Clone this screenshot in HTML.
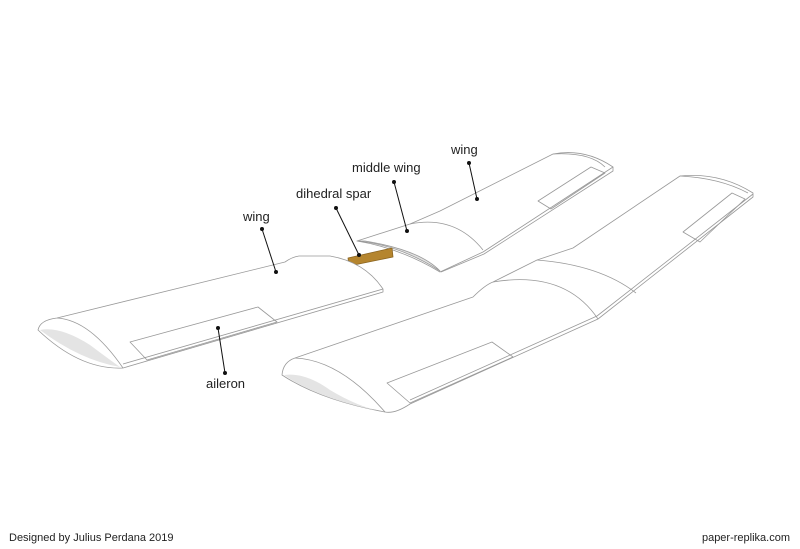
<!DOCTYPE html>
<html><head><style>
html,body{margin:0;padding:0;background:#fff}
svg{display:block}
text{font-family:"Liberation Sans",Arial,sans-serif;fill:#222}
</style></head><body>
<svg width="800" height="549" viewBox="0 0 800 549" xmlns="http://www.w3.org/2000/svg">
<g fill="none" stroke="#999" stroke-width="0.8" stroke-linejoin="round">
<!-- far wing -->
<path d="M440,211 L553,154 Q585,148 613,167 L483,252 L440,272 Q400,248 357,241 L410,224 Z" fill="#fff"/>
<path d="M357,241 Q400,245 440,271 Q420,250 365,241 Z" fill="#e2e2e2"/>
<path d="M410,224 Q455,215 483,250"/>
<path d="M613,167 L613,171 L484,254 L441,272"/>
<path d="M538,201 L591,167 L605,173 L551,209 Z"/>
<path d="M553,154 Q590,152 605,167"/>
<!-- spar -->
<path d="M348,258 L392,248 L393,257 L349,266 Z" fill="#b5852e" stroke="#8a6420"/>
<!-- left wing -->
<path d="M57,318 L285,262 Q292,257 299,256 L330,256 Q365,262 383,289 L383,292 L123,368 Q80,370 38,330 Q40,320 57,318 Z" fill="#fff"/>
<path d="M40,330 Q60,326 90,345 Q110,360 120,367 Q80,360 40,330 Z" fill="#e4e4e4" stroke="none"/>
<path d="M57,318 Q90,320 123,368"/>
<path d="M383,289 L123,364"/>
<path d="M130,342 L258,307 L277,322 L147,360 Z"/>
<!-- big wing -->
<path d="M295,358 L473,297 Q485,285 493,282 L537,260 L573,248 L680,176 Q720,172 753,193 L753,197 L598,319 L410,404 Q395,414 385,412 Q320,400 282,375 Q283,362 295,358 Z" fill="#fff"/>
<path d="M284,375 Q305,372 330,390 Q360,408 385,412 Q320,400 284,375 Z" fill="#e4e4e4" stroke="none"/>
<path d="M295,358 Q340,360 385,412"/>
<path d="M493,282 Q565,270 598,319"/>
<path d="M537,260 Q600,265 636,293"/>
<path d="M753,194 L597,316 L410,400"/>
<path d="M387,383 L492,342 L513,357 L410,403 Z"/>
<path d="M683,232 L732,193 L745,199 L700,242 Z"/>
<path d="M680,176 Q720,178 748,193"/>
</g>
<g stroke="#111" stroke-width="1" fill="#111">
<line x1="262" y1="229" x2="276" y2="272"/><circle cx="262" cy="229" r="1.5"/><circle cx="276" cy="272" r="1.5"/>
<line x1="218" y1="328" x2="225" y2="373"/><circle cx="218" cy="328" r="1.5"/><circle cx="225" cy="373" r="1.5"/>
<line x1="336" y1="208" x2="359" y2="255"/><circle cx="336" cy="208" r="1.5"/><circle cx="359" cy="255" r="1.5"/>
<line x1="394" y1="182" x2="407" y2="231"/><circle cx="394" cy="182" r="1.5"/><circle cx="407" cy="231" r="1.5"/>
<line x1="469" y1="163" x2="477" y2="199"/><circle cx="469" cy="163" r="1.5"/><circle cx="477" cy="199" r="1.5"/>
</g>
<g font-size="13">
<text x="243" y="221">wing</text>
<text x="206" y="388">aileron</text>
<text x="296" y="198">dihedral spar</text>
<text x="352" y="172">middle wing</text>
<text x="451" y="154">wing</text>
</g>
<text x="9" y="541" font-size="11">Designed by Julius Perdana 2019</text>
<text x="790" y="541" font-size="11" text-anchor="end">paper-replika.com</text>
</svg>
</body></html>
